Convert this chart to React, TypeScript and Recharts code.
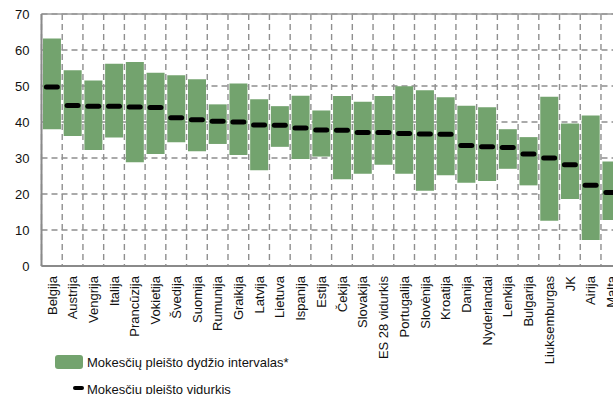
import { ComposedChart, Bar, Scatter, XAxis, YAxis, CartesianGrid, ReferenceLine } from "recharts";

const categories = [
  "Belgija", "Austrija", "Vengrija", "Italija", "Prancūzija", "Vokietija", "Švedija",
  "Suomija", "Rumunija", "Graikija", "Latvija", "Lietuva", "Ispanija", "Estija",
  "Čekija", "Slovakija", "ES 28 vidurkis", "Portugalija", "Slovėnija", "Kroatija",
  "Danija", "Nyderlandai", "Lenkija", "Bulgarija", "Liuksemburgas", "JK", "Airija", "Malta",
];
const highValues = [
  63.2, 54.4, 51.5, 56.2, 56.7, 53.7, 53.0, 51.9, 44.9, 50.7, 46.3, 44.4, 47.3, 43.2,
  47.2, 45.6, 47.2, 49.9, 48.8, 46.9, 44.5, 44.1, 38.0, 35.8, 47.0, 39.6, 41.8, 29.0,
];
const lowValues = [
  38.0, 36.1, 32.2, 35.7, 28.8, 31.1, 34.4, 31.9, 33.9, 30.8, 26.6, 33.1, 29.7, 30.4,
  24.1, 25.6, 28.1, 25.6, 20.9, 25.2, 23.1, 23.6, 27.0, 22.4, 12.6, 18.6, 7.2, 12.8,
];
const meanValues = [
  49.7, 44.6, 44.4, 44.4, 44.2, 44.0, 41.2, 40.6, 40.2, 40.0, 39.2, 39.1, 38.3, 37.8,
  37.7, 37.1, 37.1, 36.8, 36.7, 36.6, 33.5, 33.1, 32.9, 31.1, 30.0, 28.1, 22.4, 20.4,
];
const yTicks = [0, 10, 20, 30, 40, 50, 60, 70];

const GREEN = "#73a36e";
const GRID = "#8f8f8f";
const AXIS = "#8a8a8a";
const FONT = "'Liberation Sans', Arial, sans-serif";

const data = categories.map((name, i) => ({
  name,
  range: [lowValues[i], highValues[i]],
  mean: meanValues[i],
}));

function CategoryTick({ x, y, payload }: any) {
  return (
    <text
      x={x}
      y={y}
      transform={`rotate(-90, ${x}, ${y})`}
      textAnchor="end"
      dy="0.36em"
      fontSize={13}
      fontFamily={FONT}
      fill="#111"
    >
      {payload.value}
    </text>
  );
}

function MeanMark({ cx, cy }: any) {
  return <rect x={cx - 8} y={cy - 2.5} width={16} height={5} rx={2.5} fill="#000" />;
}

export default function App() {
  const n = categories.length;
  return (
    <div style={{ position: "fixed", left: 0, top: 0, width: 613, height: 394, overflow: "hidden", background: "#fff" }}>
      <ComposedChart
        width={650}
        height={394}
        data={data}
        margin={{ top: 14, right: 28.3, left: 0, bottom: 48 }}
        barCategoryGap="7%"
      >
        <CartesianGrid
          stroke={GRID}
          strokeWidth={1.4}
          strokeDasharray="6 4"
          verticalCoordinatesGenerator={({ offset }: any) =>
            Array.from({ length: n + 1 }, (_, i) => offset.left + (i * offset.width) / n)
          }
        />
        <ReferenceLine y={70} stroke="#9a9a9a" strokeWidth={1.6} />
        <XAxis
          dataKey="name"
          interval={0}
          height={80}
          tickLine={false}
          tickSize={8}
          tickMargin={2}
          axisLine={{ stroke: AXIS, strokeWidth: 2 }}
          tick={<CategoryTick />}
        />
        <YAxis
          domain={[0, 70]}
          ticks={yTicks}
          width={41.5}
          tickLine={false}
          tickSize={6}
          tickMargin={6}
          axisLine={{ stroke: AXIS, strokeWidth: 2 }}
          tick={{ fill: "#111", fontSize: 13, fontFamily: FONT }}
        />
        <Bar dataKey="range" fill={GREEN} isAnimationActive={false} />
        <Scatter dataKey="mean" shape={<MeanMark />} isAnimationActive={false} />
      </ComposedChart>

      {/* legend */}
      <div style={{ position: "absolute", left: 55, top: 355, width: 28, height: 14, background: GREEN, borderRadius: 3 }} />
      <div style={{ position: "absolute", left: 87, top: 355, fontFamily: FONT, fontSize: 13, color: "#111", whiteSpace: "nowrap" }}>
        Mokesčių pleišto dydžio intervalas*
      </div>
      <div style={{ position: "absolute", left: 73, top: 386, width: 11, height: 4, background: "#000", borderRadius: 2 }} />
      <div style={{ position: "absolute", left: 87, top: 382, fontFamily: FONT, fontSize: 13, color: "#111", whiteSpace: "nowrap" }}>
        Mokesčių pleišto vidurkis
      </div>
    </div>
  );
}
